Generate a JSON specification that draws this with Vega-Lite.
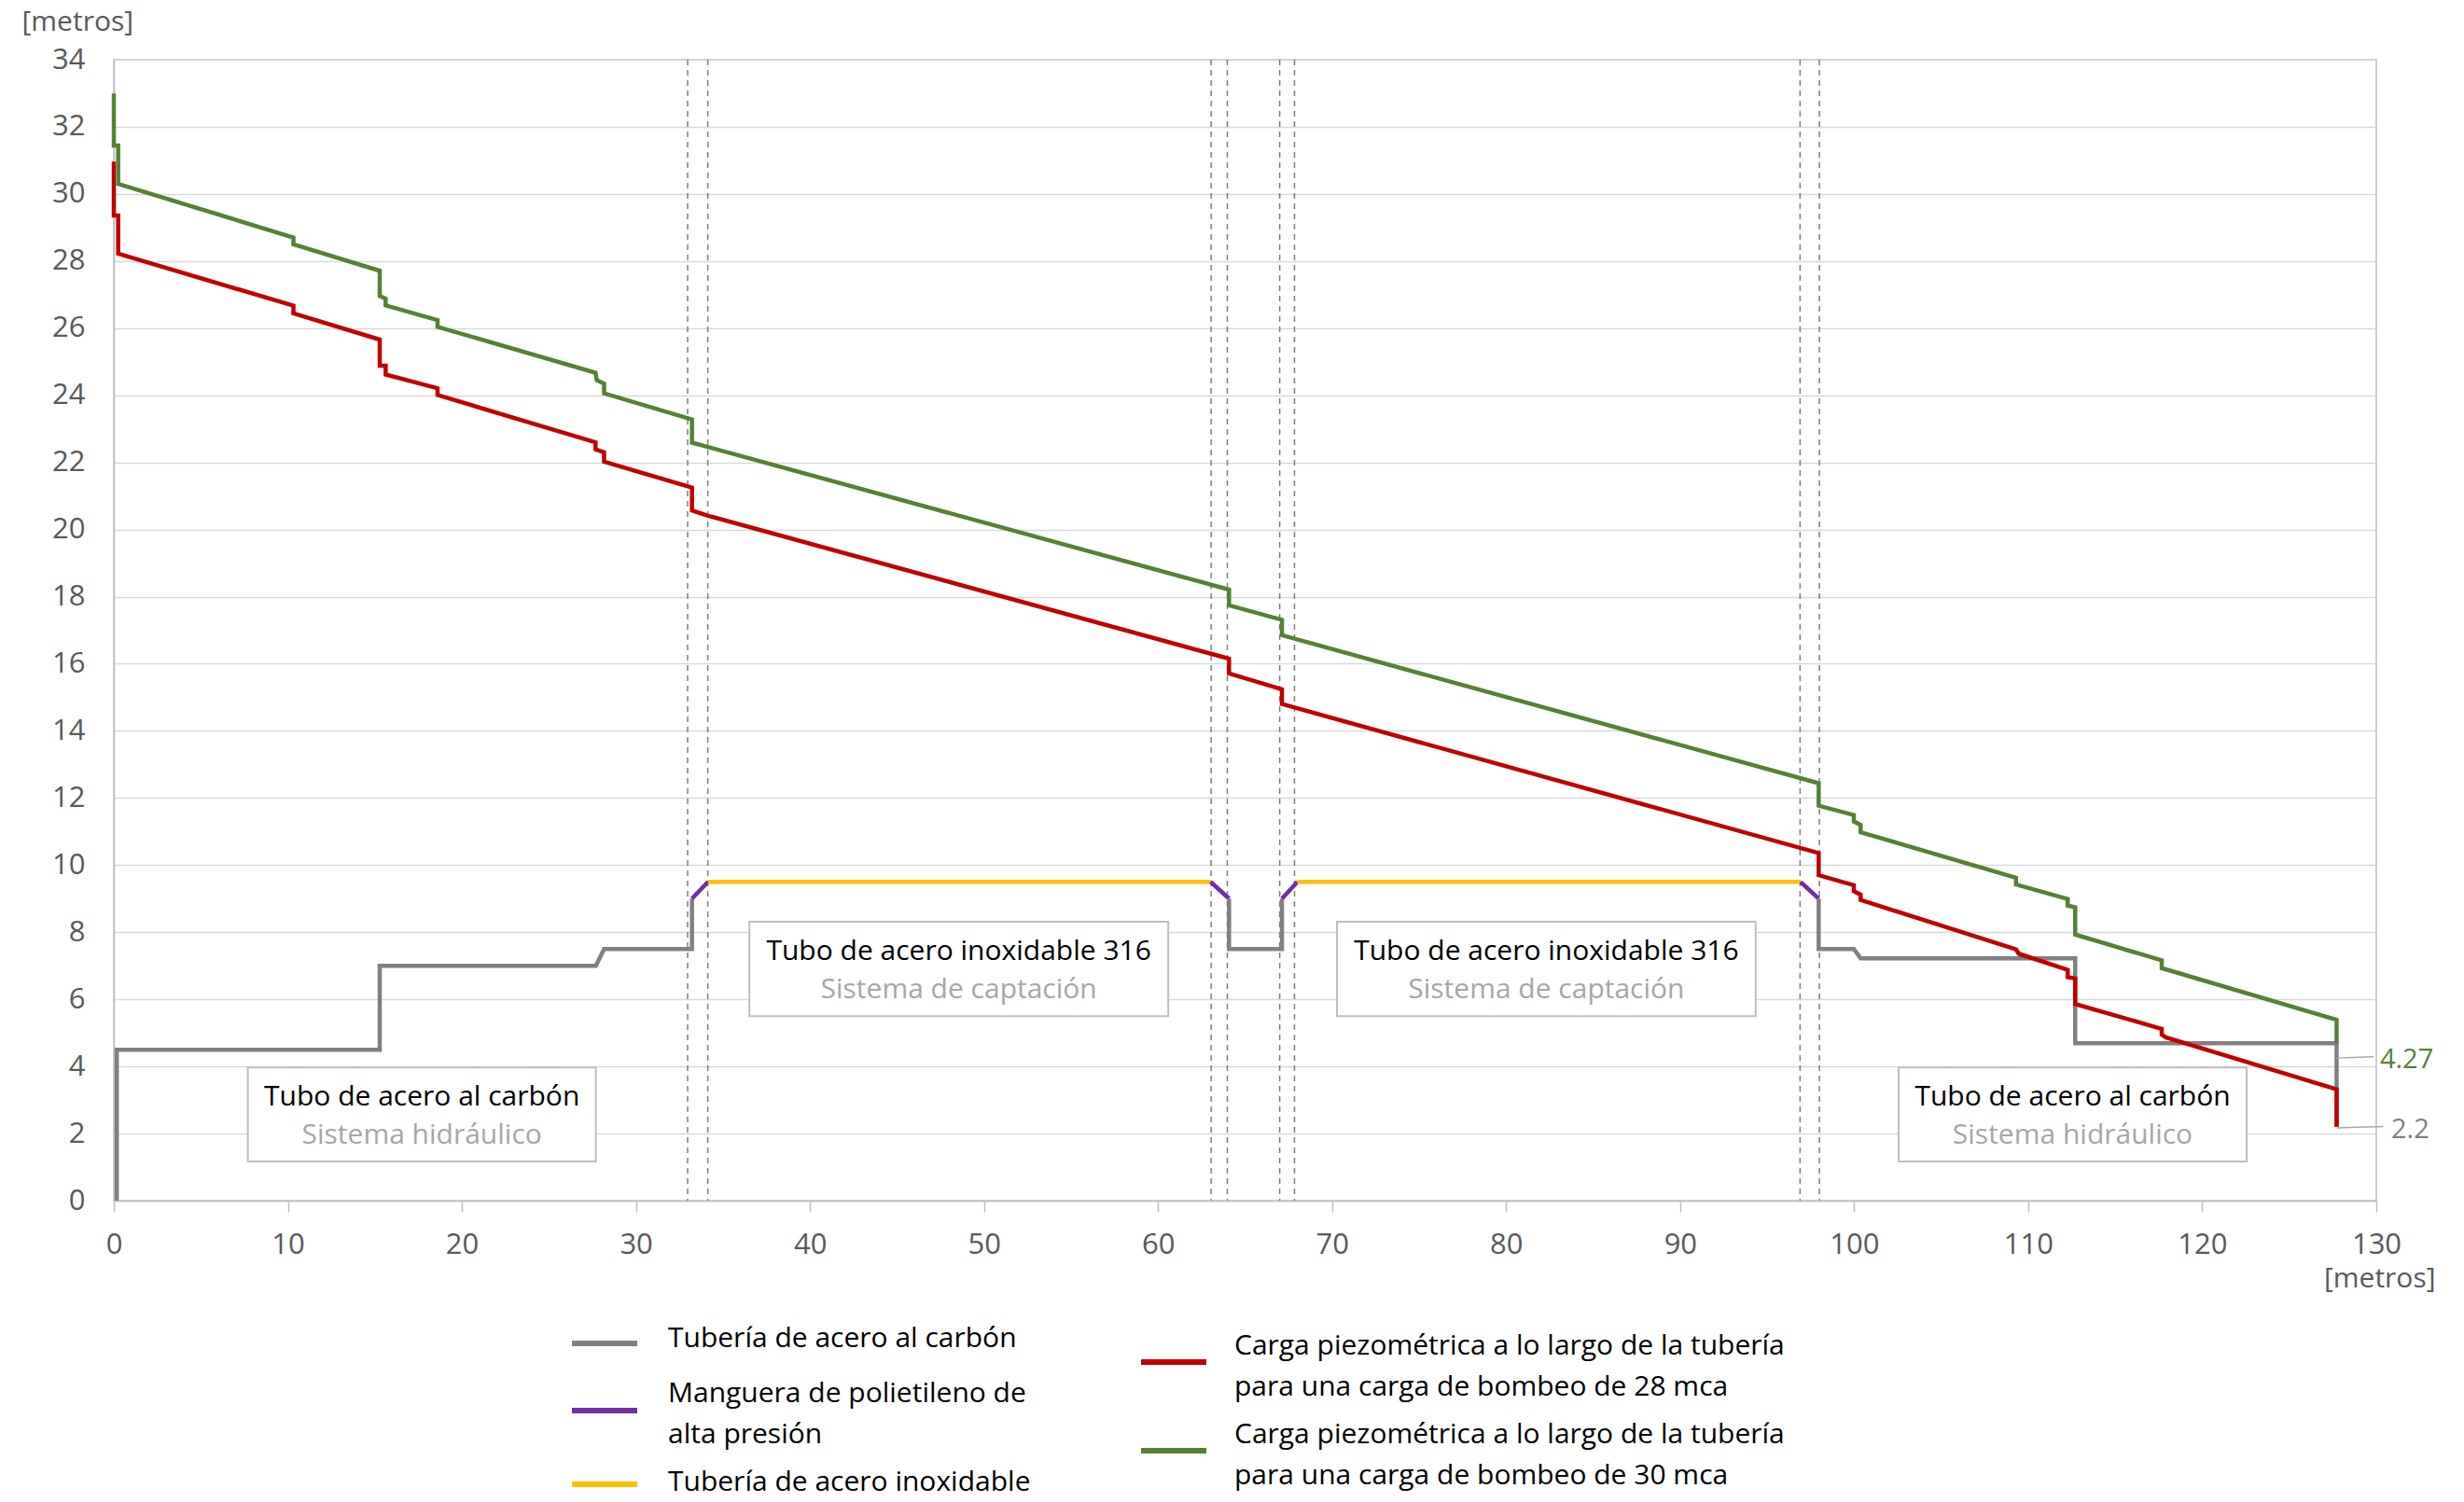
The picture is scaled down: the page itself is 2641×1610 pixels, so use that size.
{
  "$schema": "https://vega.github.io/schema/vega-lite/v6.json",
  "width": 2425,
  "height": 1223,
  "autosize": {"type": "none"},
  "padding": {"left": 122, "top": 64, "right": 94, "bottom": 323},
  "background": "#ffffff",
  "config": {
    "font": "Open Sans",
    "view": {"stroke": "#bfbfbf", "strokeWidth": 1.5}
  },
  "datasets": {
    "cortes": [
      {"x": 32.97}, {"x": 34.13}, {"x": 63.05}, {"x": 63.98},
      {"x": 66.99}, {"x": 67.84}, {"x": 96.89}, {"x": 98.0}
    ],
    "cuadros": [
      {"titulo": "Tubo de acero al carbón", "sistema": "Sistema hidráulico", "x": 7.7, "x2": 27.7, "y": 1.17, "y2": 3.97, "xc": 17.7, "yc": 2.57},
      {"titulo": "Tubo de acero inoxidable 316", "sistema": "Sistema de captación", "x": 36.52, "x2": 60.59, "y": 5.5, "y2": 8.31, "xc": 48.55, "yc": 6.905},
      {"titulo": "Tubo de acero inoxidable 316", "sistema": "Sistema de captación", "x": 70.28, "x2": 94.34, "y": 5.5, "y2": 8.31, "xc": 82.31, "yc": 6.905},
      {"titulo": "Tubo de acero al carbón", "sistema": "Sistema hidráulico", "x": 102.55, "x2": 122.55, "y": 1.17, "y2": 3.97, "xc": 112.55, "yc": 2.57}
    ],
    "tuberias": [
      {"serie": "Tubería de acero al carbón", "tramo": "c1", "i": 1, "x": 0.17, "y": 0},
      {"serie": "Tubería de acero al carbón", "tramo": "c1", "i": 2, "x": 0.17, "y": 4.5},
      {"serie": "Tubería de acero al carbón", "tramo": "c1", "i": 3, "x": 15.28, "y": 4.5},
      {"serie": "Tubería de acero al carbón", "tramo": "c1", "i": 4, "x": 15.28, "y": 7.0},
      {"serie": "Tubería de acero al carbón", "tramo": "c1", "i": 5, "x": 27.7, "y": 7.0},
      {"serie": "Tubería de acero al carbón", "tramo": "c1", "i": 6, "x": 28.17, "y": 7.5},
      {"serie": "Tubería de acero al carbón", "tramo": "c1", "i": 7, "x": 33.22, "y": 7.5},
      {"serie": "Tubería de acero al carbón", "tramo": "c1", "i": 8, "x": 33.22, "y": 9.0},
      {"serie": "Manguera de polietileno de alta presión", "tramo": "p1", "i": 1, "x": 33.22, "y": 9.0},
      {"serie": "Manguera de polietileno de alta presión", "tramo": "p1", "i": 2, "x": 34.14, "y": 9.5},
      {"serie": "Tubería de acero inoxidable", "tramo": "i1", "i": 1, "x": 34.14, "y": 9.5},
      {"serie": "Tubería de acero inoxidable", "tramo": "i1", "i": 2, "x": 63.02, "y": 9.5},
      {"serie": "Manguera de polietileno de alta presión", "tramo": "p2", "i": 1, "x": 63.02, "y": 9.5},
      {"serie": "Manguera de polietileno de alta presión", "tramo": "p2", "i": 2, "x": 64.08, "y": 9.0},
      {"serie": "Tubería de acero al carbón", "tramo": "c2", "i": 1, "x": 64.08, "y": 9.0},
      {"serie": "Tubería de acero al carbón", "tramo": "c2", "i": 2, "x": 64.08, "y": 7.5},
      {"serie": "Tubería de acero al carbón", "tramo": "c2", "i": 3, "x": 67.12, "y": 7.5},
      {"serie": "Tubería de acero al carbón", "tramo": "c2", "i": 4, "x": 67.12, "y": 9.0},
      {"serie": "Manguera de polietileno de alta presión", "tramo": "p3", "i": 1, "x": 67.12, "y": 9.0},
      {"serie": "Manguera de polietileno de alta presión", "tramo": "p3", "i": 2, "x": 68.01, "y": 9.5},
      {"serie": "Tubería de acero inoxidable", "tramo": "i2", "i": 1, "x": 68.01, "y": 9.5},
      {"serie": "Tubería de acero inoxidable", "tramo": "i2", "i": 2, "x": 96.92, "y": 9.5},
      {"serie": "Manguera de polietileno de alta presión", "tramo": "p4", "i": 1, "x": 96.92, "y": 9.5},
      {"serie": "Manguera de polietileno de alta presión", "tramo": "p4", "i": 2, "x": 97.96, "y": 9.0},
      {"serie": "Tubería de acero al carbón", "tramo": "c3", "i": 1, "x": 97.96, "y": 9.0},
      {"serie": "Tubería de acero al carbón", "tramo": "c3", "i": 2, "x": 97.96, "y": 7.5},
      {"serie": "Tubería de acero al carbón", "tramo": "c3", "i": 3, "x": 99.98, "y": 7.5},
      {"serie": "Tubería de acero al carbón", "tramo": "c3", "i": 4, "x": 100.37, "y": 7.22},
      {"serie": "Tubería de acero al carbón", "tramo": "c3", "i": 5, "x": 112.7, "y": 7.22},
      {"serie": "Tubería de acero al carbón", "tramo": "c3", "i": 6, "x": 112.7, "y": 4.69},
      {"serie": "Tubería de acero al carbón", "tramo": "c3", "i": 7, "x": 127.72, "y": 4.69},
      {"serie": "Tubería de acero al carbón", "tramo": "c3", "i": 8, "x": 127.72, "y": 2.2}
    ],
    "cargas": [
      {"serie": "Carga piezométrica a lo largo de la tubería para una carga de bombeo de 28 mca", "i": 1, "x": 0, "y": 30.96},
      {"serie": "Carga piezométrica a lo largo de la tubería para una carga de bombeo de 28 mca", "i": 2, "x": 0, "y": 29.36},
      {"serie": "Carga piezométrica a lo largo de la tubería para una carga de bombeo de 28 mca", "i": 3, "x": 0.25, "y": 29.36},
      {"serie": "Carga piezométrica a lo largo de la tubería para una carga de bombeo de 28 mca", "i": 4, "x": 0.25, "y": 28.22},
      {"serie": "Carga piezométrica a lo largo de la tubería para una carga de bombeo de 28 mca", "i": 5, "x": 10.32, "y": 26.67},
      {"serie": "Carga piezométrica a lo largo de la tubería para una carga de bombeo de 28 mca", "i": 6, "x": 10.32, "y": 26.44},
      {"serie": "Carga piezométrica a lo largo de la tubería para una carga de bombeo de 28 mca", "i": 7, "x": 15.28, "y": 25.66},
      {"serie": "Carga piezométrica a lo largo de la tubería para una carga de bombeo de 28 mca", "i": 8, "x": 15.28, "y": 24.88},
      {"serie": "Carga piezométrica a lo largo de la tubería para una carga de bombeo de 28 mca", "i": 9, "x": 15.62, "y": 24.88},
      {"serie": "Carga piezométrica a lo largo de la tubería para una carga de bombeo de 28 mca", "i": 10, "x": 15.62, "y": 24.62},
      {"serie": "Carga piezométrica a lo largo de la tubería para una carga de bombeo de 28 mca", "i": 11, "x": 18.6, "y": 24.21},
      {"serie": "Carga piezométrica a lo largo de la tubería para una carga de bombeo de 28 mca", "i": 12, "x": 18.6, "y": 24.01},
      {"serie": "Carga piezométrica a lo largo de la tubería para una carga de bombeo de 28 mca", "i": 13, "x": 27.68, "y": 22.6},
      {"serie": "Carga piezométrica a lo largo de la tubería para una carga de bombeo de 28 mca", "i": 14, "x": 27.68, "y": 22.39},
      {"serie": "Carga piezométrica a lo largo de la tubería para una carga de bombeo de 28 mca", "i": 15, "x": 28.17, "y": 22.3},
      {"serie": "Carga piezométrica a lo largo de la tubería para una carga de bombeo de 28 mca", "i": 16, "x": 28.17, "y": 22.02},
      {"serie": "Carga piezométrica a lo largo de la tubería para una carga de bombeo de 28 mca", "i": 17, "x": 33.22, "y": 21.25},
      {"serie": "Carga piezométrica a lo largo de la tubería para una carga de bombeo de 28 mca", "i": 18, "x": 33.22, "y": 20.57},
      {"serie": "Carga piezométrica a lo largo de la tubería para una carga de bombeo de 28 mca", "i": 19, "x": 34.14, "y": 20.41},
      {"serie": "Carga piezométrica a lo largo de la tubería para una carga de bombeo de 28 mca", "i": 20, "x": 64.08, "y": 16.15},
      {"serie": "Carga piezométrica a lo largo de la tubería para una carga de bombeo de 28 mca", "i": 21, "x": 64.08, "y": 15.71},
      {"serie": "Carga piezométrica a lo largo de la tubería para una carga de bombeo de 28 mca", "i": 22, "x": 67.12, "y": 15.24},
      {"serie": "Carga piezométrica a lo largo de la tubería para una carga de bombeo de 28 mca", "i": 23, "x": 67.12, "y": 14.8},
      {"serie": "Carga piezométrica a lo largo de la tubería para una carga de bombeo de 28 mca", "i": 24, "x": 97.96, "y": 10.36},
      {"serie": "Carga piezométrica a lo largo de la tubería para una carga de bombeo de 28 mca", "i": 25, "x": 97.96, "y": 9.7},
      {"serie": "Carga piezométrica a lo largo de la tubería para una carga de bombeo de 28 mca", "i": 26, "x": 99.98, "y": 9.4},
      {"serie": "Carga piezométrica a lo largo de la tubería para una carga de bombeo de 28 mca", "i": 27, "x": 99.98, "y": 9.22},
      {"serie": "Carga piezométrica a lo largo de la tubería para una carga de bombeo de 28 mca", "i": 28, "x": 100.37, "y": 9.12},
      {"serie": "Carga piezométrica a lo largo de la tubería para una carga de bombeo de 28 mca", "i": 29, "x": 100.37, "y": 8.96},
      {"serie": "Carga piezométrica a lo largo de la tubería para una carga de bombeo de 28 mca", "i": 30, "x": 109.3, "y": 7.49},
      {"serie": "Carga piezométrica a lo largo de la tubería para una carga de bombeo de 28 mca", "i": 31, "x": 109.45, "y": 7.36},
      {"serie": "Carga piezométrica a lo largo de la tubería para una carga de bombeo de 28 mca", "i": 32, "x": 112.27, "y": 6.88},
      {"serie": "Carga piezométrica a lo largo de la tubería para una carga de bombeo de 28 mca", "i": 33, "x": 112.27, "y": 6.66},
      {"serie": "Carga piezométrica a lo largo de la tubería para una carga de bombeo de 28 mca", "i": 34, "x": 112.7, "y": 6.62},
      {"serie": "Carga piezométrica a lo largo de la tubería para una carga de bombeo de 28 mca", "i": 35, "x": 112.7, "y": 5.86},
      {"serie": "Carga piezométrica a lo largo de la tubería para una carga de bombeo de 28 mca", "i": 36, "x": 117.67, "y": 5.12},
      {"serie": "Carga piezométrica a lo largo de la tubería para una carga de bombeo de 28 mca", "i": 37, "x": 117.67, "y": 4.95},
      {"serie": "Carga piezométrica a lo largo de la tubería para una carga de bombeo de 28 mca", "i": 38, "x": 117.9, "y": 4.87},
      {"serie": "Carga piezométrica a lo largo de la tubería para una carga de bombeo de 28 mca", "i": 39, "x": 127.72, "y": 3.32},
      {"serie": "Carga piezométrica a lo largo de la tubería para una carga de bombeo de 28 mca", "i": 40, "x": 127.72, "y": 2.2},
      {"serie": "Carga piezométrica a lo largo de la tubería para una carga de bombeo de 30 mca", "i": 1, "x": 0, "y": 32.99},
      {"serie": "Carga piezométrica a lo largo de la tubería para una carga de bombeo de 30 mca", "i": 2, "x": 0, "y": 31.44},
      {"serie": "Carga piezométrica a lo largo de la tubería para una carga de bombeo de 30 mca", "i": 3, "x": 0.25, "y": 31.44},
      {"serie": "Carga piezométrica a lo largo de la tubería para una carga de bombeo de 30 mca", "i": 4, "x": 0.25, "y": 30.3},
      {"serie": "Carga piezométrica a lo largo de la tubería para una carga de bombeo de 30 mca", "i": 5, "x": 10.32, "y": 28.7},
      {"serie": "Carga piezométrica a lo largo de la tubería para una carga de bombeo de 30 mca", "i": 6, "x": 10.32, "y": 28.5},
      {"serie": "Carga piezométrica a lo largo de la tubería para una carga de bombeo de 30 mca", "i": 7, "x": 15.28, "y": 27.71},
      {"serie": "Carga piezométrica a lo largo de la tubería para una carga de bombeo de 30 mca", "i": 8, "x": 15.28, "y": 26.96},
      {"serie": "Carga piezométrica a lo largo de la tubería para una carga de bombeo de 30 mca", "i": 9, "x": 15.62, "y": 26.88},
      {"serie": "Carga piezométrica a lo largo de la tubería para una carga de bombeo de 30 mca", "i": 10, "x": 15.62, "y": 26.68},
      {"serie": "Carga piezométrica a lo largo de la tubería para una carga de bombeo de 30 mca", "i": 11, "x": 18.6, "y": 26.24},
      {"serie": "Carga piezométrica a lo largo de la tubería para una carga de bombeo de 30 mca", "i": 12, "x": 18.6, "y": 26.04},
      {"serie": "Carga piezométrica a lo largo de la tubería para una carga de bombeo de 30 mca", "i": 13, "x": 27.68, "y": 24.67},
      {"serie": "Carga piezométrica a lo largo de la tubería para una carga de bombeo de 30 mca", "i": 14, "x": 27.75, "y": 24.45},
      {"serie": "Carga piezométrica a lo largo de la tubería para una carga de bombeo de 30 mca", "i": 15, "x": 28.17, "y": 24.35},
      {"serie": "Carga piezométrica a lo largo de la tubería para una carga de bombeo de 30 mca", "i": 16, "x": 28.17, "y": 24.06},
      {"serie": "Carga piezométrica a lo largo de la tubería para una carga de bombeo de 30 mca", "i": 17, "x": 33.22, "y": 23.28},
      {"serie": "Carga piezométrica a lo largo de la tubería para una carga de bombeo de 30 mca", "i": 18, "x": 33.22, "y": 22.59},
      {"serie": "Carga piezométrica a lo largo de la tubería para una carga de bombeo de 30 mca", "i": 19, "x": 64.08, "y": 18.21},
      {"serie": "Carga piezométrica a lo largo de la tubería para una carga de bombeo de 30 mca", "i": 20, "x": 64.08, "y": 17.74},
      {"serie": "Carga piezométrica a lo largo de la tubería para una carga de bombeo de 30 mca", "i": 21, "x": 67.12, "y": 17.31},
      {"serie": "Carga piezométrica a lo largo de la tubería para una carga de bombeo de 30 mca", "i": 22, "x": 67.12, "y": 16.85},
      {"serie": "Carga piezométrica a lo largo de la tubería para una carga de bombeo de 30 mca", "i": 23, "x": 97.96, "y": 12.44},
      {"serie": "Carga piezométrica a lo largo de la tubería para una carga de bombeo de 30 mca", "i": 24, "x": 97.96, "y": 11.77},
      {"serie": "Carga piezométrica a lo largo de la tubería para una carga de bombeo de 30 mca", "i": 25, "x": 99.98, "y": 11.49},
      {"serie": "Carga piezométrica a lo largo de la tubería para una carga de bombeo de 30 mca", "i": 26, "x": 99.98, "y": 11.3},
      {"serie": "Carga piezométrica a lo largo de la tubería para una carga de bombeo de 30 mca", "i": 27, "x": 100.37, "y": 11.2},
      {"serie": "Carga piezométrica a lo largo de la tubería para una carga de bombeo de 30 mca", "i": 28, "x": 100.37, "y": 10.98},
      {"serie": "Carga piezométrica a lo largo de la tubería para una carga de bombeo de 30 mca", "i": 29, "x": 109.3, "y": 9.62},
      {"serie": "Carga piezométrica a lo largo de la tubería para una carga de bombeo de 30 mca", "i": 30, "x": 109.3, "y": 9.42},
      {"serie": "Carga piezométrica a lo largo de la tubería para una carga de bombeo de 30 mca", "i": 31, "x": 112.27, "y": 8.99},
      {"serie": "Carga piezométrica a lo largo de la tubería para una carga de bombeo de 30 mca", "i": 32, "x": 112.27, "y": 8.79},
      {"serie": "Carga piezométrica a lo largo de la tubería para una carga de bombeo de 30 mca", "i": 33, "x": 112.7, "y": 8.74},
      {"serie": "Carga piezométrica a lo largo de la tubería para una carga de bombeo de 30 mca", "i": 34, "x": 112.7, "y": 7.93},
      {"serie": "Carga piezométrica a lo largo de la tubería para una carga de bombeo de 30 mca", "i": 35, "x": 117.67, "y": 7.16},
      {"serie": "Carga piezométrica a lo largo de la tubería para una carga de bombeo de 30 mca", "i": 36, "x": 117.67, "y": 6.93},
      {"serie": "Carga piezométrica a lo largo de la tubería para una carga de bombeo de 30 mca", "i": 37, "x": 127.72, "y": 5.39},
      {"serie": "Carga piezométrica a lo largo de la tubería para una carga de bombeo de 30 mca", "i": 38, "x": 127.72, "y": 4.69}
    ],
    "guias": [
      {"id": "a", "x": 127.7, "y": 4.25},
      {"id": "a", "x": 129.85, "y": 4.29},
      {"id": "b", "x": 127.75, "y": 2.17},
      {"id": "b", "x": 130.4, "y": 2.21}
    ],
    "etiquetas": [
      {"valor": "4.27", "serie": "Carga piezométrica a lo largo de la tubería para una carga de bombeo de 30 mca", "x": 130.21, "y": 3.95},
      {"valor": "2.2", "serie": "Tubería de acero al carbón", "x": 130.86, "y": 1.86}
    ]
  },
  "layer": [
    {
      "data": {"name": "cortes"},
      "mark": {"type": "rule", "color": "#7f7f7f", "strokeWidth": 1.5, "strokeDash": [6, 5]},
      "encoding": {
        "x": {"field": "x", "type": "quantitative"}
      }
    },
    {
      "data": {"name": "cuadros"},
      "mark": {"type": "rect", "fill": "#ffffff", "stroke": "#bfbfbf", "strokeWidth": 2},
      "encoding": {
        "x": {"field": "x", "type": "quantitative"},
        "x2": {"field": "x2"},
        "y": {"field": "y", "type": "quantitative"},
        "y2": {"field": "y2"}
      }
    },
    {
      "data": {"name": "cuadros"},
      "mark": {"type": "text", "fontSize": 30, "color": "#000000", "align": "center", "baseline": "alphabetic", "dy": -10},
      "encoding": {
        "x": {"field": "xc", "type": "quantitative"},
        "y": {"field": "yc", "type": "quantitative"},
        "text": {"field": "titulo"}
      }
    },
    {
      "data": {"name": "cuadros"},
      "mark": {"type": "text", "fontSize": 30, "color": "#a6a6a6", "align": "center", "baseline": "alphabetic", "dy": 31},
      "encoding": {
        "x": {"field": "xc", "type": "quantitative"},
        "y": {"field": "yc", "type": "quantitative"},
        "text": {"field": "sistema"}
      }
    },
    {
      "data": {"name": "tuberias"},
      "mark": {"type": "line", "strokeWidth": 4.5},
      "encoding": {
        "x": {
          "field": "x", "type": "quantitative",
          "scale": {"domain": [0, 130], "nice": false, "zero": false},
          "axis": {
            "title": "[metros]", "titleAlign": "right", "titleX": 2488, "titleY": 92, "titleBaseline": "alphabetic",
            "titleFontSize": 30, "titleFontWeight": "normal", "titleColor": "#595959",
            "values": [0, 10, 20, 30, 40, 50, 60, 70, 80, 90, 100, 110, 120, 130],
            "labelFontSize": 31, "labelColor": "#595959", "labelPadding": 20, "labelFlush": false, "labelOverlap": false,
            "tickSize": 12, "tickColor": "#bfbfbf", "tickWidth": 1.5,
            "domainColor": "#bfbfbf", "domainWidth": 1.5, "grid": false
          }
        },
        "y": {
          "field": "y", "type": "quantitative",
          "scale": {"domain": [0, 34], "nice": false, "zero": false},
          "axis": {
            "title": "[metros]", "titleAngle": 0, "titleAlign": "left", "titleBaseline": "alphabetic", "titleX": -99, "titleY": -32,
            "titleFontSize": 30, "titleFontWeight": "normal", "titleColor": "#595959",
            "values": [0, 2, 4, 6, 8, 10, 12, 14, 16, 18, 20, 22, 24, 26, 28, 30, 32, 34],
            "labelFontSize": 31, "labelColor": "#595959", "labelPadding": 31, "labelOverlap": false,
            "ticks": false, "tickSize": 0,
            "domainColor": "#bfbfbf", "domainWidth": 1.5,
            "grid": true, "gridColor": "#d9d9d9", "gridWidth": 1.5
          }
        },
        "color": {
          "field": "serie", "type": "nominal",
          "scale": {
            "domain": ["Tubería de acero al carbón", "Manguera de polietileno de alta presión", "Tubería de acero inoxidable"],
            "range": ["#808080", "#7030a0", "#ffc000"]
          },
          "legend": {
            "orient": "none", "legendX": 488, "legendY": 1338, "direction": "vertical", "title": null,
            "symbolType": "stroke", "symbolSize": 4900, "symbolStrokeWidth": 6,
            "labelFontSize": 30, "labelColor": "#000000", "labelOffset": 30, "labelLimit": 0,
            "rowPadding": 0, "padding": 0,
            "labelExpr": "datum.label == 'Manguera de polietileno de alta presión' ? ['Manguera de polietileno de', 'alta presión'] : datum.label == 'Tubería de acero al carbón' ? ['Tubería de acero al carbón', ''] : datum.label",
            "encode": {"labels": {"update": {
              "lineHeight": {"signal": "datum.value == 'Tubería de acero al carbón' ? 24 : 44"},
              "dy": {"signal": "datum.value == 'Tubería de acero al carbón' ? -5 : datum.value == 'Manguera de polietileno de alta presión' ? -18 : -2"}
            }}}
          }
        },
        "detail": {"field": "tramo"},
        "order": {"field": "i", "type": "quantitative"}
      }
    },
    {
      "data": {"name": "cargas"},
      "mark": {"type": "line", "strokeWidth": 4.5},
      "encoding": {
        "x": {"field": "x", "type": "quantitative"},
        "y": {"field": "y", "type": "quantitative"},
        "color": {
          "field": "serie", "type": "nominal",
          "scale": {
            "domain": ["Carga piezométrica a lo largo de la tubería para una carga de bombeo de 28 mca", "Carga piezométrica a lo largo de la tubería para una carga de bombeo de 30 mca"],
            "range": ["#c00000", "#548235"]
          },
          "legend": {
            "orient": "none", "legendX": 1098, "legendY": 1358, "direction": "vertical", "title": null,
            "symbolType": "stroke", "symbolSize": 4900, "symbolStrokeWidth": 6,
            "labelFontSize": 30, "labelColor": "#000000", "labelOffset": 27, "labelLimit": 0,
            "rowPadding": 15, "padding": 0,
            "labelExpr": "split(replace(datum.label, ' para una', '|para una'), '|')",
            "encode": {"labels": {"update": {"lineHeight": {"value": 44}, "dy": {"value": -17}}}}
          }
        },
        "order": {"field": "i", "type": "quantitative"}
      }
    },
    {
      "data": {"name": "guias"},
      "mark": {"type": "line", "color": "#a6a6a6", "strokeWidth": 1.5},
      "encoding": {
        "x": {"field": "x", "type": "quantitative"},
        "y": {"field": "y", "type": "quantitative"},
        "detail": {"field": "id"}
      }
    },
    {
      "data": {"name": "etiquetas"},
      "mark": {"type": "text", "fontSize": 29, "align": "left", "baseline": "alphabetic"},
      "encoding": {
        "x": {"field": "x", "type": "quantitative"},
        "y": {"field": "y", "type": "quantitative"},
        "text": {"field": "valor"},
        "color": {
          "field": "serie", "type": "nominal",
          "scale": {
            "domain": ["Carga piezométrica a lo largo de la tubería para una carga de bombeo de 30 mca", "Tubería de acero al carbón"],
            "range": ["#548235", "#7f7f7f"]
          },
          "legend": null
        }
      }
    }
  ],
  "resolve": {"scale": {"color": "independent"}}
}
